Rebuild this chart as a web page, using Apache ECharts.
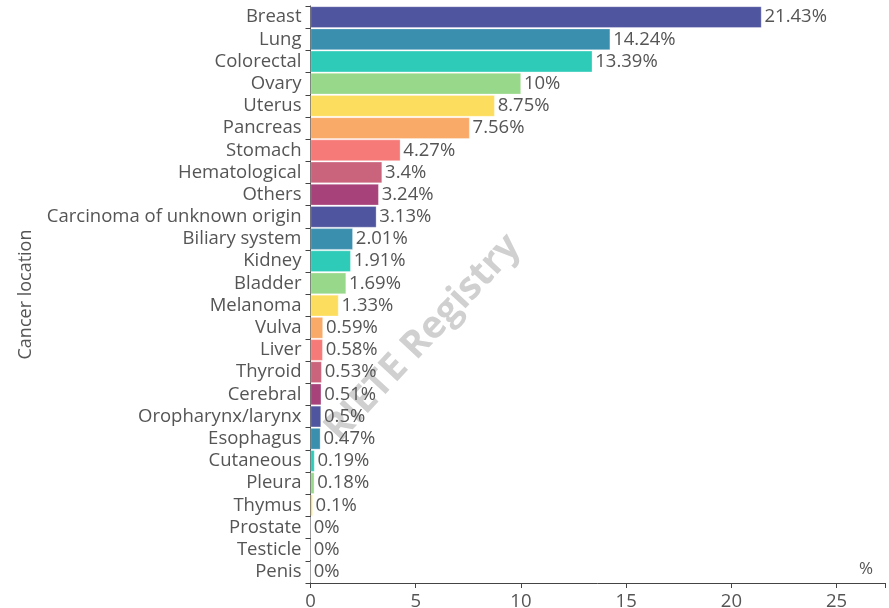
<!DOCTYPE html>
<html>
<head>
<meta charset="utf-8">
<script src="https://cdn.jsdelivr.net/npm/echarts@6/dist/echarts.min.js"></script>
<style>html,body{margin:0;padding:0;background:#fff}#c{width:889px;height:608px}</style>
</head>
<body>
<div id="c"></div>
<script>
const categories = ["Breast","Lung","Colorectal","Ovary","Uterus","Pancreas","Stomach","Hematological","Others","Carcinoma of unknown origin","Biliary system","Kidney","Bladder","Melanoma","Vulva","Liver","Thyroid","Cerebral","Oropharynx/larynx","Esophagus","Cutaneous","Pleura","Thymus","Prostate","Testicle","Penis"];
const values = [21.43,14.24,13.39,10,8.75,7.56,4.27,3.4,3.24,3.13,2.01,1.91,1.69,1.33,0.59,0.58,0.53,0.51,0.5,0.47,0.19,0.18,0.1,0,0,0];
const xTicks = [0,5,10,15,20,25];
const palette = ["#50559f","#3b8fae","#2ecbb8","#98d88a","#fddd5e","#f9a968","#f67b78","#c9647c","#a7437a"];
const FONT = "Open Sans";

const chart = echarts.init(document.getElementById('c'), null, {renderer:'canvas'});
chart.setOption({
  animation:false,
  color: palette,
  textStyle:{fontFamily:FONT},
  grid:{left:310.5, right:4, top:6, bottom:25, containLabel:false, outerBoundsMode:'none'},
  graphic:[{
    type:'text', z:0,
    x:423, y:338, rotation: Math.PI*47/180,
    style:{text:'RIETE Registry', fill:'#d0d0d0', font:'bold 38px "Open Sans"', textAlign:'center', textVerticalAlign:'middle'}
  }],
  xAxis:{
    type:'value', min:0, max:27.3, interval:5,
    axisLine:{show:true, lineStyle:{color:'#444', width:1}},
    axisTick:{show:true, length:5, lineStyle:{color:'#444'}},
    splitLine:{show:false},
    axisLabel:{color:'#555', fontSize:18.5, margin:9, fontFamily:FONT,
      formatter:function(v){return xTicks.indexOf(v)>=0 ? String(v) : '';}},
    name:'%', nameLocation:'end', nameGap:-12,
    nameTextStyle:{color:'#555', fontSize:17, fontFamily:FONT, align:'right', verticalAlign:'bottom', padding:[0,0,5,0]}
  },
  yAxis:{
    type:'category', data:categories, inverse:true,
    axisLine:{show:true, lineStyle:{color:'#444', width:1}},
    axisTick:{show:true, length:5, interval:0, lineStyle:{color:'#444'}},
    axisLabel:{color:'#555', fontSize:18.5, margin:9, interval:0, fontFamily:FONT},
    name:'Cancer location', nameLocation:'middle', nameGap:276,
    nameTextStyle:{color:'#555', fontSize:18, fontFamily:FONT}
  },
  series:[{
    type:'bar', data:values, colorBy:'data',
    barCategoryGap:'4%',
    itemStyle:{borderColor:'rgba(255,255,255,0.6)', borderWidth:0.5},
    label:{show:true, position:'right', distance:3, color:'#555', fontSize:18.5, fontFamily:FONT,
      formatter:function(p){return p.value+'%';}},
    z:2
  }]
});
</script>
</body>
</html>
